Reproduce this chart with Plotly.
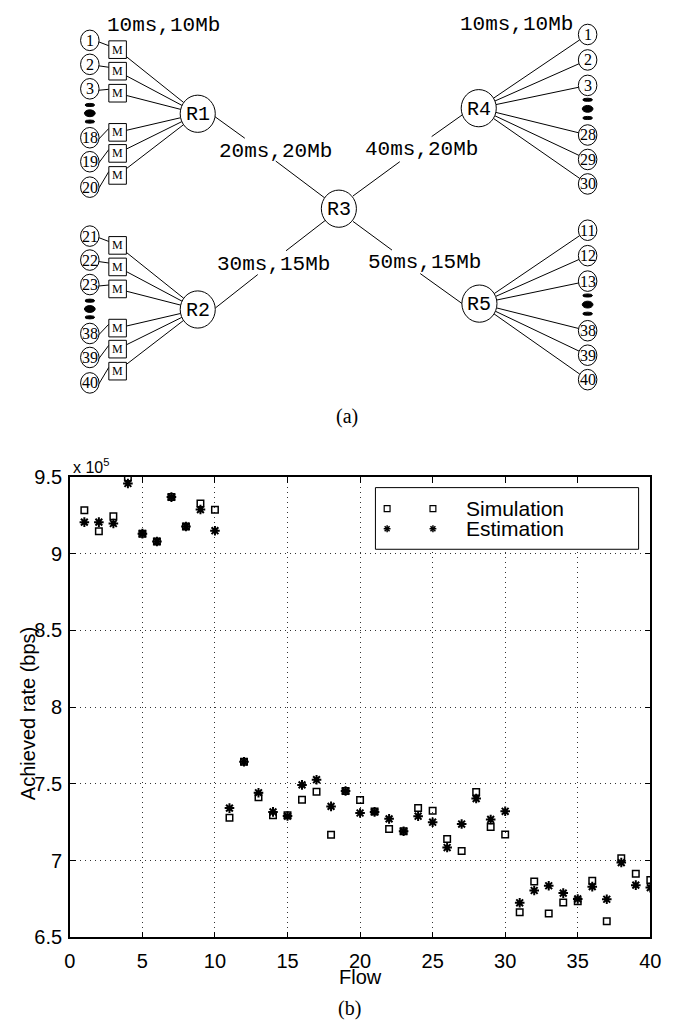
import plotly.graph_objects as go

# ---------------- data: achieved rate per flow, in units of 10^5 bps ----------------
flows = list(range(1, 41))
simulation_rate = [
    9.283, 9.145, 9.243, 9.496, 9.130, 9.079, 9.368, 9.177, 9.326, 9.285,
    7.279, 7.644, 7.413, 7.295, 7.295, 7.397, 7.449, 7.168, 7.453, 7.395,
    7.320, 7.206, 7.191, 7.342, 7.325, 7.140, 7.063, 7.447, 7.219, 7.170,
    6.664, 6.863, 6.655, 6.727, 6.735, 6.868, 6.605, 7.015, 6.914, 6.874,
]
estimation_rate = [
    9.205, 9.205, 9.196, 9.457, 9.130, 9.079, 9.368, 9.177, 9.287, 9.149,
    7.342, 7.644, 7.442, 7.317, 7.290, 7.493, 7.527, 7.353, 7.453, 7.310,
    7.317, 7.272, 7.191, 7.289, 7.250, 7.085, 7.238, 7.404, 7.268, 7.321,
    6.725, 6.805, 6.836, 6.788, 6.750, 6.830, 6.748, 6.987, 6.840, 6.824,
]
x_ticks = [0, 5, 10, 15, 20, 25, 30, 35, 40]
y_ticks = [6.5, 7, 7.5, 8, 8.5, 9, 9.5]

# ---------------- topology labels ----------------
left_top_hosts = ["1", "2", "3", "18", "19", "20"]
left_bottom_hosts = ["21", "22", "23", "38", "39", "40"]
right_top_hosts = ["1", "2", "3", "28", "29", "30"]
right_bottom_hosts = ["11", "12", "13", "38", "39", "40"]
link_labels = ["10ms,10Mb", "10ms,10Mb", "20ms,20Mb", "40ms,20Mb", "30ms,15Mb", "50ms,15Mb"]

W, H = 673, 1032


def px(x):
    return x / W


def py(y):
    return 1 - y / H


SANS = "Liberation Sans, Arial, Helvetica, sans-serif"
SERIF = "Liberation Serif, Times New Roman, serif"
MONO = "Liberation Mono, Courier New, monospace"

shapes = []
annotations = []


def ellipse(cx, cy, rx, ry, fill=None, width=1):
    shapes.append(dict(type="circle", xref="paper", yref="paper",
                       x0=px(cx - rx), x1=px(cx + rx), y0=py(cy + ry), y1=py(cy - ry),
                       line=dict(color="black", width=width),
                       fillcolor=fill if fill else "rgba(0,0,0,0)"))


def rect(x0, y0, x1, y1, width=1, fill="white"):
    shapes.append(dict(type="rect", xref="paper", yref="paper",
                       x0=px(x0), x1=px(x1), y0=py(y1), y1=py(y0),
                       line=dict(color="black", width=width), fillcolor=fill))


def seg(x0, y0, x1, y1, width=1):
    shapes.append(dict(type="line", xref="paper", yref="paper",
                       x0=px(x0), x1=px(x1), y0=py(y0), y1=py(y1),
                       line=dict(color="black", width=width)))


def text(x, y, s, font, size, anchor="center", angle=0):
    annotations.append(dict(x=px(x), y=py(y), xref="paper", yref="paper", text=s,
                            showarrow=False, xanchor=anchor, yanchor="middle",
                            textangle=angle,
                            font=dict(family=font, size=size, color="black")))


def clip_ellipse(cx, cy, rx, ry, tx, ty):
    # point where the ray from the ellipse centre towards (tx, ty) leaves the ellipse
    dx, dy = tx - cx, ty - cy
    t = 1 / ((dx / rx) ** 2 + (dy / ry) ** 2) ** 0.5
    return cx + dx * t, cy + dy * t


def clip_box(cx, cy, half, tx, ty):
    dx, dy = tx - cx, ty - cy
    t = half / max(abs(dx), abs(dy))
    return cx + dx * t, cy + dy * t


# router nodes
R_RX, R_RY = 18, 19
routers = {"R1": (196.7, 105), "R2": (196.7, 305), "R3": (341.5, 202),
           "R4": (485, 99.3), "R5": (485.7, 299)}

HOST_RX, HOST_RY = 9.5, 10.5
BOX_HALF = 9

# left side: hosts -> monitors (M) -> router
host_dy = [30, 54.5, 79.5, 129.5, 154, 180]
box_dy = [39.5, 61.5, 84, 124, 145.5, 168]
for offset, names, router in [(0, left_top_hosts, "R1"), (200, left_bottom_hosts, "R2")]:
    rcx, rcy = routers[router]
    for name, hy, by in zip(names, host_dy, box_dy):
        hy += offset
        by += offset
        bcx = 114.5
        # host to monitor
        seg(86 + HOST_RX * 0.95, hy + 1.5, bcx - BOX_HALF, by - 4)
        # monitor to router
        sx, sy = clip_box(bcx, by, BOX_HALF, rcx, rcy)
        ex, ey = clip_ellipse(rcx, rcy, R_RX, R_RY, bcx, by)
        seg(sx, sy, ex, ey)
        rect(bcx - BOX_HALF, by - BOX_HALF, bcx + BOX_HALF, by + BOX_HALF)
        text(bcx, by, "M", SERIF, 12)
        ellipse(86, hy, HOST_RX, HOST_RY, fill="white")
        text(86, hy, name, SERIF, 16)
    for ry_, rr, hh in [(96, 5, 1.6), (104.5, 5.5, 3.5), (113, 5, 1.6)]:
        ellipse(86, ry_ + offset, rr, hh, fill="black")

# right side: router -> hosts
right_dy = [24, 50, 76, 126.7, 151.7, 176.7]
for offset, names, router in [(0, right_top_hosts, "R4"), (200, right_bottom_hosts, "R5")]:
    rcx, rcy = routers[router]
    hx = 596.7
    for name, hy in zip(names, right_dy):
        hy += offset
        sx, sy = clip_ellipse(rcx, rcy, R_RX, R_RY, hx, hy)
        ex, ey = clip_ellipse(hx, hy, HOST_RX, HOST_RY, rcx, rcy)
        seg(sx, sy, ex, ey)
        ellipse(hx, hy, HOST_RX, HOST_RY, fill="white")
        text(hx, hy, name, SERIF, 16)
    for ry_, rr, hh in [(90.7, 5, 1.6), (100, 5.5, 3.5), (109.3, 5, 1.6)]:
        ellipse(hx, ry_ + offset, rr, hh, fill="black")

# backbone links, broken where the link label sits
backbone = [
    ((213, 107), (245, 130), (276.7, 153.3), (327, 191)),
    ((215, 303.3), (258.3, 269.3), (287.3, 245), (327.5, 214)),
    ((356, 189), (404, 154), (436.7, 128.3), (468.3, 106)),
    ((356, 215), (396, 244.3), (425, 268.3), (468, 299)),
]
for a, b, c, d in backbone:
    seg(*a, *b)
    seg(*c, *d)

for name, (cx, cy) in routers.items():
    ellipse(cx, cy, R_RX, R_RY, fill="white")
    text(cx, cy + 1, name, MONO, 20)

label_pos = [(161.5, 15), (523.3, 13.5), (276.5, 143.5), (426, 141.7), (274, 259.3), (429.5, 257.3)]
for s, (x, y) in zip(link_labels, label_pos):
    text(x, y, s, MONO, 21)

text(350, 414, "(a)", SERIF, 20)
text(352, 1019, "(b)", SERIF, 20)

# ---------------- scatter chart ----------------
X0, X1 = 65.5, 661
Y0, Y1 = 476, 946.5

fig = go.Figure()
fig.add_trace(go.Scatter(
    x=flows, y=simulation_rate, mode="markers", name="Simulation",
    marker=dict(symbol="square-open", size=6.5, color="black", line=dict(width=1.5)),
    showlegend=False))
fig.add_trace(go.Scatter(
    x=flows, y=estimation_rate, mode="markers", name="Estimation",
    marker=dict(symbol="asterisk-open", size=8, color="black", line=dict(width=2, color="black")),
    showlegend=False))

axis_common = dict(showline=True, linecolor="black", linewidth=1.5, mirror="ticks",
                   ticks="inside", ticklen=6, tickwidth=1, tickcolor="black",
                   showgrid=True, gridcolor="#333333", gridwidth=1, griddash="1px,4px",
                   zeroline=False,
                   tickfont=dict(family=SANS, size=20, color="black"))

fig.update_xaxes(range=[0, 40], tickvals=x_ticks, domain=[px(X0), px(X1)],
                 ticklabelstandoff=5, **axis_common)
fig.update_yaxes(range=[6.5, 9.5], tickvals=y_ticks, domain=[py(Y1), py(Y0)],
                 ticklabelstandoff=2, **axis_common)

# axis captions and exponent
text(X0 + 1, 465, "x 10<sup>5</sup>", SANS, 16, anchor="left")
text(364, 987, "Flow", SANS, 20)
text(22, 718, "Achieved rate (bps)", SANS, 20, angle=-90)

# legend box
rect(379, 487, 649, 550, width=1)
for x in (391, 438):
    rect(x - 3, 505.5, x + 3, 511.5, width=1.2, fill="white")
    a = 3.5
    d = a * 0.72
    yc = 529
    seg(x - a, yc, x + a, yc, width=1.5)
    seg(x, yc - a, x, yc + a, width=1.5)
    seg(x - d, yc - d, x + d, yc + d, width=1.5)
    seg(x - d, yc + d, x + d, yc - d, width=1.5)
text(470, 508, "Simulation", SANS, 21, anchor="left")
text(470, 529, "Estimation", SANS, 21, anchor="left")

fig.update_layout(width=W, height=H, margin=dict(l=0, r=0, t=0, b=0),
                  paper_bgcolor="white", plot_bgcolor="white",
                  shapes=shapes, annotations=annotations, showlegend=False)

fig.write_html("out.html")
